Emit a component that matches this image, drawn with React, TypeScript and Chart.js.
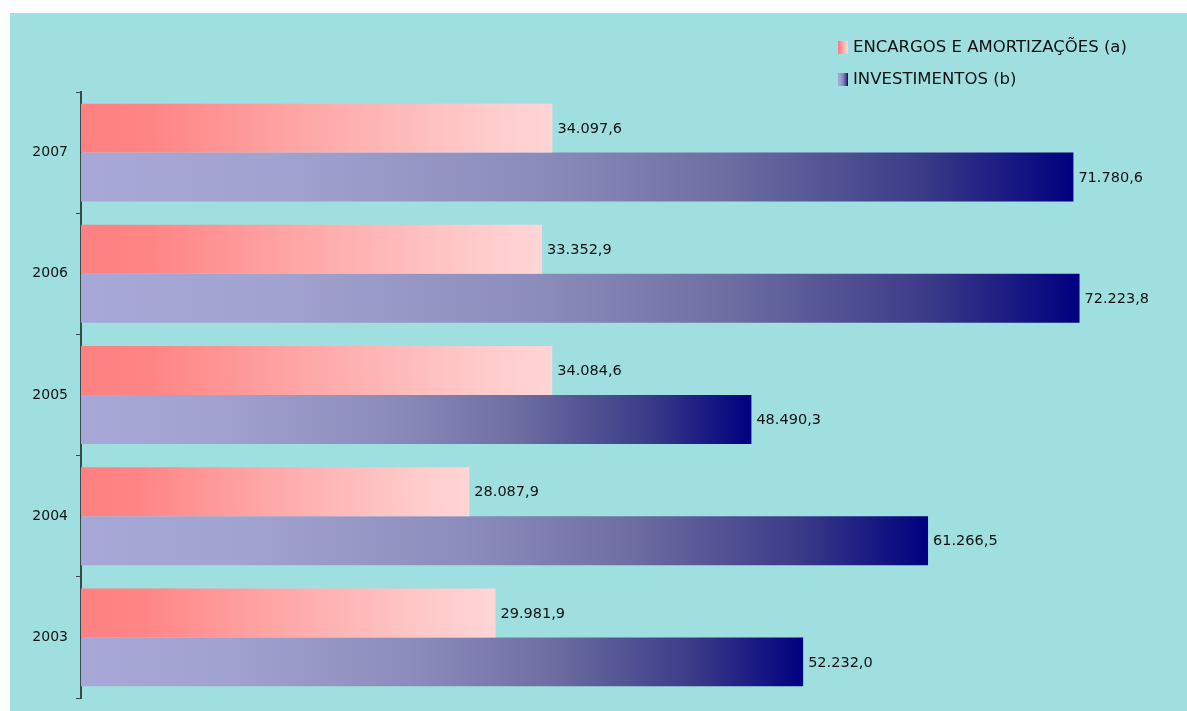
import React, { useEffect, useRef } from "react";
import { Chart, registerables } from "chart.js";

Chart.register(...registerables);

const categories = ["2007", "2006", "2005", "2004", "2003"];
const encargos = [34097.6, 33352.9, 34084.6, 28087.9, 29981.9];
const investimentos = [71780.6, 72223.8, 48490.3, 61266.5, 52232.0];
const seriesNames = ["ENCARGOS E AMORTIZAÇÕES (a)", "INVESTIMENTOS (b)"];

const FONT = "'DejaVu Sans', Verdana, sans-serif";
const gradStops: [number, string][][] = [
  [
    [0, "#ff8080"],
    [0.15, "#ff8585"],
    [0.5, "#ffa9a9"],
    [0.85, "#ffcaca"],
    [1, "#ffd5d5"],
  ],
  [
    [0, "#a8a8d8"],
    [0.2, "#a2a2d0"],
    [0.45, "#8d8dbd"],
    [0.65, "#6e6ea2"],
    [0.85, "#3a3a88"],
    [1, "#000080"],
  ],
];

function fmt(v: number): string {
  const fixed = v.toFixed(1);
  const [int, dec] = fixed.split(".");
  const withDots = int.replace(/\B(?=(\d{3})+(?!\d))/g, ".");
  return withDots + "," + dec;
}

function makeGradient(c: CanvasRenderingContext2D, x0: number, x1: number, dsIndex: number) {
  const g = c.createLinearGradient(x0, 0, x1, 0);
  gradStops[dsIndex].forEach(([o, col]) => g.addColorStop(o, col));
  return g;
}

function barGradient(dsIndex: number) {
  return (ctx: any) => {
    const chart = ctx.chart;
    const xs = chart.scales && chart.scales.x;
    const fallback = gradStops[dsIndex][0][1];
    if (!chart.chartArea || !xs || ctx.raw == null) return fallback;
    const x0 = xs.getPixelForValue(0);
    const x1 = xs.getPixelForValue(ctx.raw);
    if (!isFinite(x0) || !isFinite(x1) || x1 === x0) return fallback;
    return makeGradient(chart.ctx, x0, x1, dsIndex);
  };
}

const valueLabels = {
  id: "valueLabels",
  afterDatasetsDraw(chart: any) {
    const c = chart.ctx;
    c.save();
    c.font = `14.5px ${FONT}`;
    c.fillStyle = "#111111";
    c.textAlign = "left";
    c.textBaseline = "middle";
    chart.data.datasets.forEach((ds: any, i: number) => {
      const meta = chart.getDatasetMeta(i);
      meta.data.forEach((el: any, j: number) => {
        c.fillText(fmt(ds.data[j]), el.x + 5, el.y + 1);
      });
    });
    c.restore();
  },
};

const customLegend = {
  id: "customLegend",
  afterDraw(chart: any) {
    const c = chart.ctx;
    c.save();
    c.font = `16.5px ${FONT}`;
    c.textAlign = "left";
    c.textBaseline = "middle";
    const items = [
      { y: 34, name: seriesNames[0], idx: 0 },
      { y: 66, name: seriesNames[1], idx: 1 },
    ];
    items.forEach((it) => {
      const bx = 828;
      c.fillStyle = makeGradient(c, bx, bx + 10, it.idx);
      c.fillRect(bx, it.y - 6, 10, 13);
      c.fillStyle = "#111111";
      c.fillText(it.name, 843, it.y + 1);
    });
    c.restore();
  },
};

export default function App() {
  const ref = useRef<HTMLCanvasElement | null>(null);
  useEffect(() => {
    if (!ref.current) return;
    const chart = new Chart(ref.current, {
      type: "bar",
      data: {
        labels: categories,
        datasets: [
          {
            label: seriesNames[0],
            data: encargos,
            backgroundColor: barGradient(0),
            borderWidth: 0,
            categoryPercentage: 0.808,
            barPercentage: 1,
          },
          {
            label: seriesNames[1],
            data: investimentos,
            backgroundColor: barGradient(1),
            borderWidth: 0,
            categoryPercentage: 0.808,
            barPercentage: 1,
          },
        ],
      },
      options: {
        indexAxis: "y",
        animation: false,
        responsive: false,
        maintainAspectRatio: false,
        layout: { padding: { top: 79, bottom: 13, right: 29, left: 0 } },
        plugins: {
          legend: { display: false },
          tooltip: { enabled: false },
        },
        scales: {
          x: {
            display: false,
            min: 0,
            max: 77900,
          },
          y: {
            afterFit(scale: any) {
              scale.width = 71;
              scale.paddingTop = 0;
              scale.paddingBottom = 0;
            },
            border: { display: true, color: "#3a4a4a", width: 2 },
            grid: {
              display: true,
              offset: true,
              drawOnChartArea: false,
              drawTicks: true,
              tickLength: 5,
              color: "#3a4a4a",
              lineWidth: 1,
            },
            ticks: {
              color: "#111111",
              font: { family: FONT, size: 14 },
              padding: 8,
            },
          },
        },
      },
      plugins: [valueLabels, customLegend],
    });
    return () => chart.destroy();
  }, []);
  return (
    <div
      style={{
        position: "absolute",
        left: 10,
        top: 13,
        width: 1177,
        height: 698,
        background: "#a0dfe0",
      }}
    >
      <canvas ref={ref} width={1177} height={698} style={{ display: "block" }} />
    </div>
  );
}
